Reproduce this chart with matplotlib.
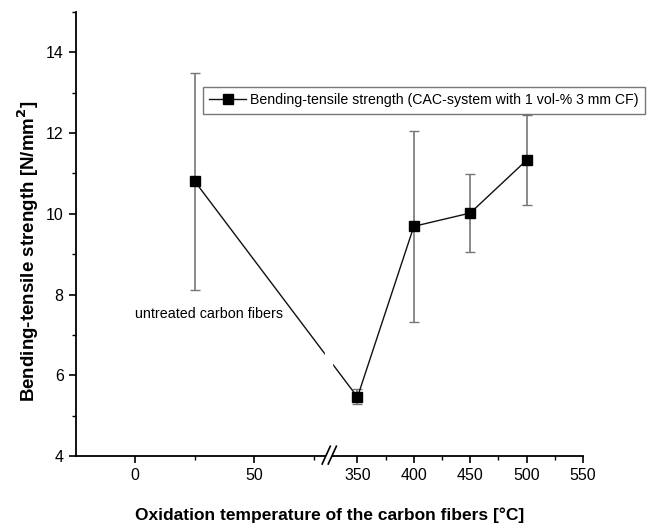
import numpy as np
import matplotlib.pyplot as plt
from matplotlib.scale import FuncScale

plt.rcParams['font.family'] = ['Liberation Sans', 'DejaVu Sans']

# Daten: Oxidationstemperatur (25 = unbehandelte Fasern) und Biegezugfestigkeit
temp = [25, 350, 400, 450, 500]
strength = [10.81, 5.46, 9.69, 10.02, 11.33]
err_low = [2.69, 0.18, 2.36, 0.96, 1.11]
err_high = [2.68, 0.19, 2.36, 0.96, 1.11]

x_major = [0, 50, 350, 400, 450, 500, 550]
x_minor = [25, 75, 375, 425, 475, 525]

# Achsenbruch zwischen 81.5 und 325
b_left, b_right = 81.5, 325.0
k = (b_left + 25) / (550 - b_right)


def fwd(x):
    x = np.asarray(x, dtype=float)
    return np.where(x <= b_left, x,
                    np.where(x >= b_right, b_left + (x - b_right) * k, b_left))


def inv(y):
    y = np.asarray(y, dtype=float)
    return np.where(y <= b_left, y, b_right + (y - b_left) / k)


fig = plt.figure(figsize=(6.59, 5.23), dpi=100)
ax = fig.add_axes([0.1146, 0.1281, 0.7701, 0.8489])
ax.set_xscale(FuncScale(ax.xaxis, (fwd, inv)))

ax.errorbar(temp, strength, yerr=[err_low, err_high], fmt='none',
            ecolor='#777777', elinewidth=1.2, capsize=3.5, capthick=1.0, zorder=2)
ax.plot(temp, strength, '-', color='#111111', lw=1.0, marker='s', ms=7.5,
        mfc='black', mec='black', zorder=3,
        label='Bending-tensile strength (CAC-system with 1 vol-% 3 mm CF)')

ax.set_xlim(-25, 550)
ax.set_ylim(4, 15)
ax.set_xticks(x_major)
ax.set_xticks(x_minor, minor=True)
ax.set_yticks([4, 6, 8, 10, 12, 14])
ax.set_yticks([5, 7, 9, 11, 13, 15], minor=True)
ax.tick_params(which='major', direction='out', length=5, width=1.2, labelsize=11.5)
ax.tick_params(which='minor', direction='out', length=3, width=1.0)
for s in ['top', 'right']:
    ax.spines[s].set_visible(False)
for s in ['left', 'bottom']:
    ax.spines[s].set_linewidth(1.3)

# Lücke in der Linie und Bruchzeichen auf der x-Achse
ax.plot([0.5, 0.5], [0.18, 0.25], transform=ax.transAxes, color='white', lw=6,
        zorder=4, solid_capstyle='butt')
ax.plot([0.494, 0.506], [0.0, 0.0], transform=ax.transAxes, color='white', lw=4,
        zorder=4, clip_on=False, solid_capstyle='butt')
for dx in (-0.006, 0.006):
    ax.plot([0.5 + dx - 0.008, 0.5 + dx + 0.008], [-0.018, 0.022],
            transform=ax.transAxes, color='black', lw=1.2, zorder=5, clip_on=False)

ax.text(0, 7.53, 'untreated carbon fibers', fontsize=10.3, ha='left', va='center')

ax.set_xlabel('Oxidation temperature of the carbon fibers [°C]', fontsize=12.5,
              fontweight='bold', labelpad=18)
ax.set_ylabel('Bending-tensile strength [N/mm$^\\mathbf{2}$]', fontsize=13.5,
              fontweight='bold')
ax.yaxis.set_label_coords(-0.068, 0.46)

leg = fig.legend(loc='upper left', bbox_to_anchor=(203 / 659, 1 - 87 / 523),
                 fontsize=10.2, frameon=True, fancybox=False, edgecolor='#555555',
                 handlelength=2.6, borderpad=0.45, handletextpad=0.3,
                 borderaxespad=0)
leg.get_frame().set_linewidth(1.0)

fig.savefig('out.png', dpi=100)
